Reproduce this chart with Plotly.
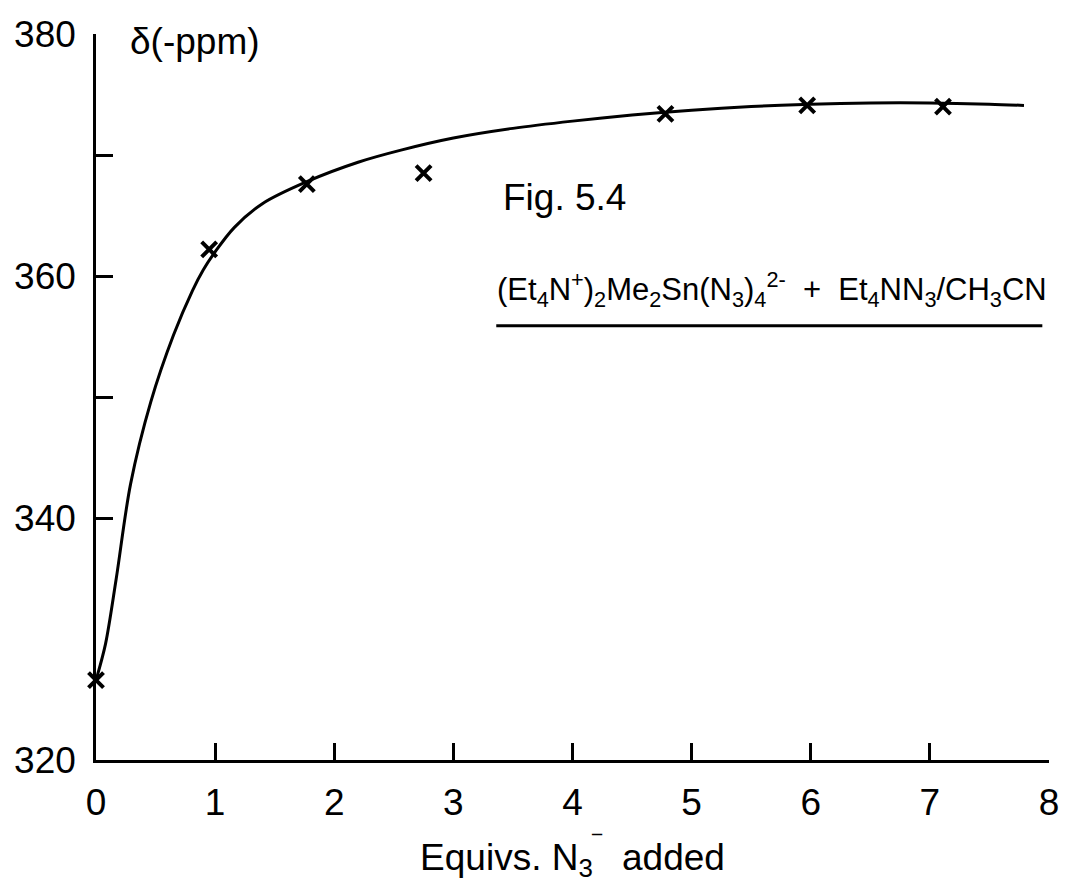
import plotly.graph_objects as go

# measured points
equivs = [0.0, 0.95, 1.77, 2.75, 4.78, 5.97, 7.11]
shift = [326.6, 362.2, 367.6, 368.5, 373.4, 374.1, 374.0]

# hand-drawn fitted curve
curve_x = [0.0, 0.08, 0.17, 0.29, 0.46, 0.65, 0.81, 0.9, 1.0, 1.16, 1.4, 1.77, 2.2, 2.56, 3.0,
           3.5, 4.0, 4.5, 5.0, 5.5, 6.0, 6.5, 7.0, 7.5, 7.79]
curve_y = [326.6, 329.6, 335.0, 342.8, 349.6, 355.1, 358.8, 360.5, 362.0, 364.0, 366.0, 367.8,
           369.4, 370.4, 371.4, 372.2, 372.8, 373.3, 373.7, 374.0, 374.2, 374.3, 374.3, 374.2, 374.1]

x_ticks = [0, 1, 2, 3, 4, 5, 6, 7, 8]
y_ticks = [320, 340, 350, 360, 370, 380]
y_tick_text = ["320", "340", "", "360", "", "380"]

FONT = "Liberation Sans"

fig = go.Figure()
fig.add_trace(go.Scatter(x=curve_x, y=curve_y, mode="lines",
                         line=dict(color="black", width=3, shape="spline", smoothing=0.9),
                         hoverinfo="skip", showlegend=False, cliponaxis=False))
fig.add_trace(go.Scatter(x=equivs, y=shift, mode="markers",
                         marker=dict(symbol="x-thin", size=15, color="black",
                                     line=dict(color="black", width=4)),
                         showlegend=False, cliponaxis=False))

fig.update_layout(
    width=1069, height=893,
    margin=dict(l=88, r=28, t=26, b=141, autoexpand=False),
    paper_bgcolor="white", plot_bgcolor="white",
    font=dict(family=FONT, color="black", size=37),
    xaxis=dict(range=[0, 8], tickvals=x_ticks, ticks="inside", ticklen=17, tickwidth=2.5,
               tickcolor="black", showline=True, linecolor="black", linewidth=2.5,
               showgrid=False, zeroline=False, tickfont=dict(size=37), automargin=False,
               ticklabelstandoff=8, ticklabeloverflow="allow",
               title=dict(text="Equivs. N<sub>3</sub><sup>‾</sup>  added", font=dict(size=37), standoff=22)),
    yaxis=dict(range=[320, 380], tickvals=y_ticks, ticktext=y_tick_text, ticks="inside",
               ticklen=17, tickwidth=2.5, tickcolor="black", showline=True, linecolor="black",
               linewidth=2.5, showgrid=False, zeroline=False, tickfont=dict(size=37),
               automargin=False, ticklabelstandoff=10, ticklabeloverflow="allow"),
    annotations=[
        dict(text="δ(-ppm)", xref="paper", yref="paper", x=0.034, y=0.99, xanchor="left",
             yanchor="middle", showarrow=False, font=dict(size=37)),
        dict(text="Fig. 5.4", xref="paper", yref="paper", x=0.425, y=0.775, xanchor="left",
             yanchor="middle", showarrow=False, font=dict(size=37)),
        dict(text="(Et<sub>4</sub>N<sup>+</sup>)<sub>2</sub>Me<sub>2</sub>Sn(N<sub>3</sub>)<sub>4</sub><sup>2-</sup>  +  Et<sub>4</sub>NN<sub>3</sub>/CH<sub>3</sub>CN",
             xref="paper", yref="paper", x=0.419, y=0.648, xanchor="left",
             yanchor="middle", showarrow=False, font=dict(size=31)),
    ],
    shapes=[dict(type="line", xref="paper", yref="paper", x0=0.42, x1=0.993, y0=0.598, y1=0.598,
                 line=dict(color="black", width=3))],
)

fig.write_html("out.html")
